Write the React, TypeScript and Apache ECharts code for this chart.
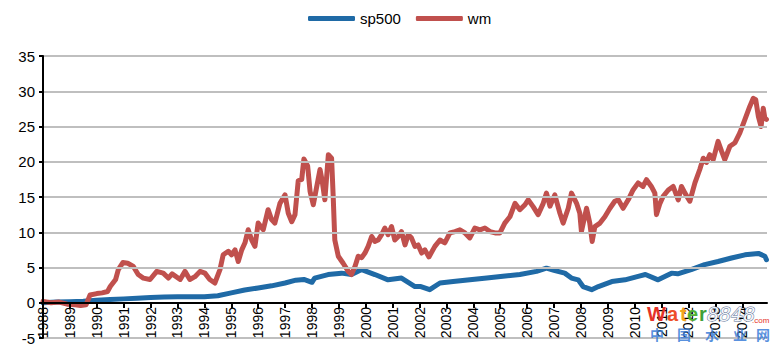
import React, { useEffect, useRef } from "react";
import * as echarts from "echarts";

const seriesNames = ["sp500", "wm"];

const spYears = [
  1988.0, 1988.5, 1989.0, 1989.5, 1990.0, 1990.5, 1991.0, 1991.5, 1992.0, 1992.5,
  1993.0, 1993.5, 1994.0, 1994.5, 1995.0, 1995.5, 1996.0, 1996.5, 1997.0, 1997.4,
  1997.7, 1998.0, 1998.1, 1998.6, 1999.1, 1999.47, 1999.85, 2000.34, 2000.83, 2001.33,
  2001.83, 2002.05, 2002.38, 2002.76, 2003.25, 2003.87, 2004.5, 2005.1, 2005.73, 2006.35,
  2006.72, 2007.0, 2007.4, 2007.65, 2007.9, 2008.08, 2008.4, 2008.65, 2009.15, 2009.64,
  2010.13, 2010.4, 2010.87, 2011.37, 2011.6, 2012.1, 2012.6, 2013.1, 2013.6, 2014.1,
  2014.6, 2014.84, 2014.9,
];
const spValues = [
  0.0, 0.1, 0.15, 0.2, 0.35, 0.45, 0.55, 0.65, 0.75, 0.8,
  0.85, 0.85, 0.85, 1.0, 1.4, 1.8, 2.1, 2.4, 2.8, 3.2,
  3.3, 2.9, 3.5, 4.0, 4.2, 4.0, 4.7, 4.0, 3.25, 3.5,
  2.3, 2.3, 1.85, 2.8, 3.0, 3.25, 3.5, 3.75, 4.0, 4.45,
  4.9, 4.6, 4.2, 3.5, 3.25, 2.3, 1.85, 2.3, 3.0, 3.25,
  3.75, 4.0, 3.25, 4.2, 4.1, 4.7, 5.4, 5.85, 6.35, 6.8,
  7.0, 6.6, 6.1,
];

const wmYears = [
  1988.0, 1988.3, 1988.6, 1988.9, 1989.2, 1989.4, 1989.6, 1989.75, 1990.0, 1990.2,
  1990.4, 1990.5, 1990.7, 1990.8, 1990.97, 1991.15, 1991.36, 1991.54, 1991.73, 1991.98,
  1992.23, 1992.47, 1992.66, 1992.8, 1993.1, 1993.28, 1993.46, 1993.65, 1993.84, 1994.02,
  1994.2, 1994.39, 1994.58, 1994.7, 1994.89, 1995.01, 1995.14, 1995.26, 1995.39, 1995.51,
  1995.63, 1995.76, 1995.88, 1996.0, 1996.19, 1996.37, 1996.5, 1996.62, 1996.81, 1997.0,
  1997.12, 1997.25, 1997.37, 1997.49, 1997.62, 1997.7, 1997.84, 1997.93, 1998.05, 1998.17,
  1998.3, 1998.38, 1998.48, 1998.61, 1998.73, 1998.79, 1998.85, 1998.98, 1999.16, 1999.35,
  1999.47, 1999.6, 1999.72, 1999.85, 1999.97, 2000.09, 2000.22, 2000.34, 2000.46, 2000.59,
  2000.71, 2000.83, 2000.96, 2001.08, 2001.21, 2001.33, 2001.46, 2001.58, 2001.7, 2001.83,
  2001.95, 2002.08, 2002.2, 2002.35, 2002.57, 2002.76, 2002.94, 2003.13, 2003.32, 2003.5,
  2003.69, 2003.87, 2004.06, 2004.25, 2004.43, 2004.62, 2004.81, 2004.99, 2005.17, 2005.36,
  2005.55, 2005.73, 2005.92, 2006.04, 2006.23, 2006.41, 2006.6, 2006.72, 2006.85, 2007.03,
  2007.22, 2007.34, 2007.53, 2007.65, 2007.84, 2007.96, 2008.02, 2008.21, 2008.33, 2008.42,
  2008.52, 2008.71, 2008.89, 2009.08, 2009.26, 2009.39, 2009.57, 2009.76, 2009.94, 2010.13,
  2010.31, 2010.44, 2010.62, 2010.75, 2010.81, 2010.94, 2011.06, 2011.25, 2011.43, 2011.62,
  2011.74, 2011.87, 2012.05, 2012.24, 2012.42, 2012.55, 2012.67, 2012.79, 2012.92, 2013.1,
  2013.23, 2013.35, 2013.54, 2013.73, 2013.91, 2014.1, 2014.28, 2014.41, 2014.5, 2014.6,
  2014.7, 2014.78, 2014.84, 2014.9,
];
const wmValues = [
  0.2, 0.0, 0.1, -0.2, -0.3, -0.4, -0.3, 1.1, 1.3, 1.4,
  1.6, 2.3, 3.3, 4.7, 5.7, 5.6, 5.15, 4.0, 3.5, 3.3,
  4.45, 4.2, 3.5, 4.1, 3.3, 4.45, 3.3, 3.7, 4.45, 4.2,
  3.3, 2.8, 4.7, 6.8, 7.3, 6.8, 7.5, 5.85, 7.5, 8.5,
  10.35, 8.9, 8.0, 11.3, 10.35, 13.2, 11.8, 11.3, 14.1, 15.3,
  12.7, 11.5, 12.5, 17.3, 17.5, 20.4, 19.4, 15.8, 13.9, 16.3,
  18.9, 17.3, 14.6, 21.0, 20.5, 15.1, 8.9, 6.6, 5.6, 4.45,
  4.0, 5.15, 6.6, 6.4, 7.05, 8.0, 9.4, 8.7, 8.9, 9.65,
  10.6, 9.65, 10.8, 8.9, 9.4, 10.1, 8.2, 9.65, 9.2, 8.0,
  8.2, 7.05, 7.5, 6.5, 8.0, 8.9, 8.5, 9.9, 10.1, 10.35,
  9.9, 9.2, 10.6, 10.35, 10.6, 10.1, 9.9, 9.9, 11.3, 12.2,
  14.1, 13.2, 13.9, 14.6, 13.6, 12.5, 14.1, 15.55, 13.7, 15.3,
  12.7, 11.3, 13.4, 15.55, 14.1, 12.7, 10.1, 13.4, 11.3, 8.7,
  10.8, 11.3, 12.2, 13.4, 14.4, 14.6, 13.4, 14.6, 16.0, 17.0,
  16.5, 17.45, 16.5, 15.55, 12.5, 14.1, 15.1, 16.0, 16.5, 14.6,
  16.5, 15.55, 14.4, 17.0, 18.9, 20.5, 19.9, 21.0, 20.3, 22.9,
  21.5, 20.3, 22.2, 22.7, 24.1, 26.0, 27.85, 29.0, 28.8, 26.4,
  25.0, 27.6, 26.2, 26.0,
];

const xMin = 1988;
const xMax = 2014.92;
const yMin = -5;
const yMax = 35;

const BLUE = "#1F6AA6";
const RED = "#C0504D";
const FONT = "'Liberation Sans', Arial, sans-serif";

function zip(xs: number[], ys: number[]) {
  return xs.map((x, i) => [x, ys[i]]);
}

export default function App() {
  const ref = useRef<HTMLDivElement>(null);
  useEffect(() => {
    if (!ref.current) return;
    const chart = echarts.init(ref.current, undefined, { renderer: "svg" });
    const wmChars = ["中", "国", "水", "业", "网"];
    const wmCharX = [650, 677, 705, 733, 756];
    const waterLetters = ["W", "a", "t", "e", "r"];
    const waterColors = ["#E53228", "#EE4E2A", "#F2A51C", "#4FAE35", "#3FA037"];
    const waterX = [647, 667, 680, 687, 699];
    chart.setOption({
      animation: false,
      backgroundColor: "#ffffff",
      legend: {
        top: 6,
        left: 303,
        itemWidth: 47,
        itemHeight: 5,
        itemGap: 15,
        icon: "roundRect",
        textStyle: { fontFamily: FONT, fontSize: 15, color: "#000" },
        data: seriesNames,
      },
      grid: [
        { left: 43, right: 10, top: 56, bottom: 14, containLabel: false, outerBoundsMode: "none" },
        // thin strip whose bottom edge sits on the value 0 of the main grid
        { left: 43, right: 10, top: 299, bottom: 49, containLabel: false, outerBoundsMode: "none" },
      ],
      xAxis: [
        {
          type: "value",
          gridIndex: 0,
          min: xMin,
          max: xMax,
          interval: 1,
          axisLine: { show: false },
          axisTick: { show: false },
          axisLabel: { show: false },
          splitLine: { show: false },
        },
        {
          type: "value",
          gridIndex: 1,
          position: "bottom",
          min: xMin,
          max: xMax,
          interval: 1,
          axisLine: { show: true, onZero: false, lineStyle: { color: "#000", width: 2 } },
          axisTick: { show: true, length: 5, lineStyle: { color: "#000", width: 2 } },
          splitLine: { show: false },
          axisLabel: {
            rotate: 90,
            margin: 4,
            fontFamily: FONT,
            fontSize: 14,
            color: "#000",
            showMaxLabel: false,
            formatter: (v: number) => String(Math.round(v)),
          },
          z: 10,
        },
      ],
      yAxis: [
        {
          type: "value",
          gridIndex: 0,
          min: yMin,
          max: yMax,
          interval: 5,
          axisLine: { show: true, onZero: false, lineStyle: { color: "#000", width: 2 } },
          axisTick: { show: true, length: 4, lineStyle: { color: "#000", width: 2 } },
          splitLine: { show: true, lineStyle: { color: "#BFBFBF", width: 2 } },
          axisLabel: { fontFamily: FONT, fontSize: 15, color: "#000", margin: 8 },
          z: 10,
        },
        {
          type: "value",
          gridIndex: 1,
          min: 0,
          max: 1,
          show: false,
        },
      ],
      series: [
        {
          name: seriesNames[0],
          type: "line",
          xAxisIndex: 0,
          yAxisIndex: 0,
          data: zip(spYears, spValues),
          showSymbol: false,
          symbol: "none",
          color: BLUE,
          lineStyle: { color: BLUE, width: 5, join: "round", cap: "round" },
          z: 3,
        },
        {
          name: seriesNames[1],
          type: "line",
          xAxisIndex: 0,
          yAxisIndex: 0,
          data: zip(wmYears, wmValues),
          showSymbol: false,
          symbol: "none",
          color: RED,
          lineStyle: { color: RED, width: 5, join: "round", cap: "round" },
          z: 4,
        },
      ],
      graphic: [
        ...waterLetters.map((c, i) => ({
          type: "text",
          x: waterX[i],
          y: 304,
          z: 100,
          style: {
            text: c,
            fill: waterColors[i],
            font: "bold 20px " + FONT,
            verticalAlign: "top",
          },
        })),
        {
          type: "text",
          x: 707,
          y: 304,
          z: 100,
          style: {
            text: "8848",
            fill: "#f4f6fa",
            stroke: "#5C7196",
            lineWidth: 1,
            font: "italic 19px 'DejaVu Serif', serif",
            verticalAlign: "top",
          },
        },
        {
          type: "text",
          x: 752,
          y: 316,
          z: 100,
          style: { text: ".com", fill: "#E53228", font: "8px " + FONT, verticalAlign: "top" },
        },
        ...wmChars.map((c, i) => ({
          type: "text",
          x: wmCharX[i],
          y: 327,
          z: 100,
          style: {
            text: c,
            fill: "#3B7DD8",
            opacity: 0.85,
            font: "bold 14px 'Noto Sans CJK SC', sans-serif",
            verticalAlign: "top",
          },
        })),
      ],
    });
    return () => chart.dispose();
  }, []);
  return (
    <div
      ref={ref}
      style={{ position: "fixed", left: 0, top: 0, width: 777, height: 352 }}
    />
  );
}
